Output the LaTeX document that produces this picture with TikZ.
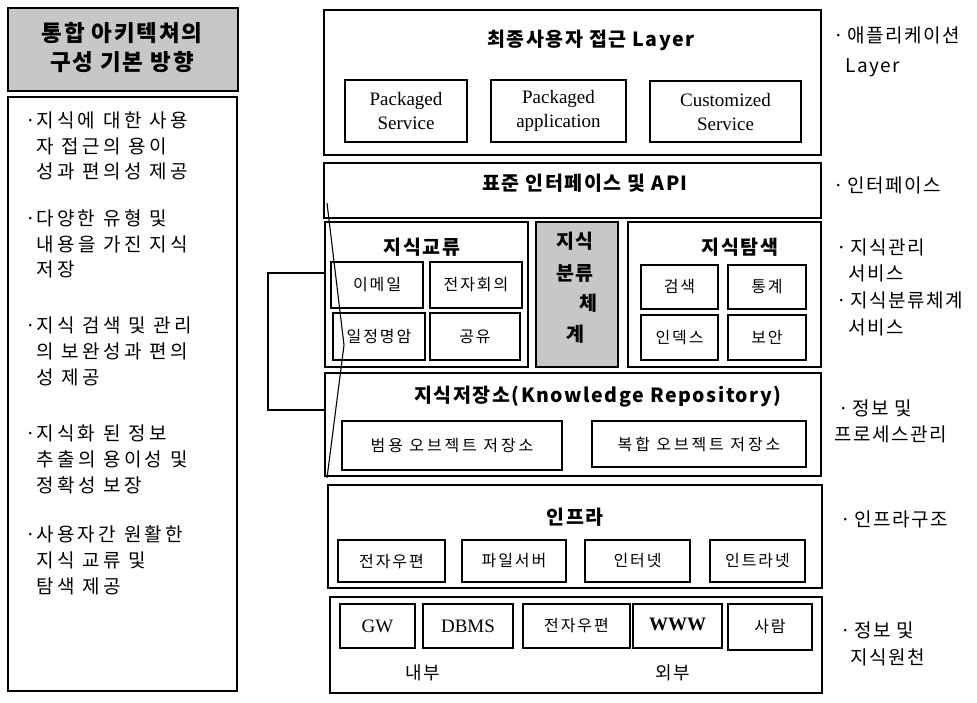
\documentclass[tikz,border=0pt]{standalone}
\usepackage{fontspec}
\setmainfont{Liberation Serif}
\newfontfamily\kr[LetterSpace=8]{Noto Sans CJK KR}
\newfontfamily\krw[LetterSpace=18]{Noto Sans CJK KR}
\newfontfamily\krm[LetterSpace=12]{Noto Sans CJK KR}
\newcommand\kbox[7][]{\node[bx,#1,minimum width={#5pt-#3pt},minimum height={#6pt-#4pt}] (#2) at ({(#3+#5)/2},{(#4+#6)/2}) {#7};}
\begin{document}
\begin{tikzpicture}[x=1pt,y=-1pt,
  bx/.style={draw,line width=2.3pt,inner sep=0pt,align=center},
  lay/.style={bx,line width=2.5pt},
  gfill/.style={fill=black!22},
  ttl/.style={inner sep=0pt,font=\kr\bfseries\fontsize{19.5}{22}\selectfont},
  lt/.style={anchor=west,inner sep=0pt,font=\krw\fontsize{19}{21}\selectfont},
  rl/.style={anchor=west,inner sep=0pt,font=\kr\fontsize{19}{21}\selectfont},
  en/.style={font=\fontsize{19}{24}\selectfont},
  ko/.style={font=\krm\fontsize{16}{18}\selectfont},
  conn/.style={line width=1.3pt},
  diag/.style={line width=1.1pt}]
\useasboundingbox (0,0) rectangle (977,702);
% ---------------- left column
\kbox[lay,gfill,line width=2.8pt]{head}{8}{8}{238}{91}{}
\node[font=\kr\bfseries\fontsize{22.5}{29}\selectfont,align=center,inner sep=0pt] (headtxt) at (122,48) {통합 아키텍쳐의\\구성 기본 방향};
\kbox[lay,line width=2.8pt]{list}{8}{97}{237}{691}{}
\node[lt] (a1) at (36,120) {\llap{·}지식에 대한 사용};
\node[lt] (a2) at (36,146) {자 접근의 용이};
\node[lt] (a3) at (36,171) {성과 편의성 제공};
\node[lt] (b1) at (36,218) {\llap{·}다양한 유형 및};
\node[lt] (b2) at (36,244) {내용을 가진 지식};
\node[lt] (b3) at (36,269) {저장};
\node[lt] (c1) at (36,325) {\llap{·}지식 검색 및 관리};
\node[lt] (c2) at (36,351) {의 보완성과 편의};
\node[lt] (c3) at (36,377) {성 제공};
\node[lt] (e1) at (36,433) {\llap{·}지식화 된 정보};
\node[lt] (e2) at (36,459) {추출의 용이성 및};
\node[lt] (e3) at (36,485) {정확성 보장};
\node[lt] (f1) at (36,534) {\llap{·}사용자간 원활한};
\node[lt] (f2) at (36,560) {지식 교류 및};
\node[lt] (f3) at (36,586) {탐색 제공};
% ---------------- layer 1
\kbox[lay]{user}{324}{10}{821}{155}{}
\node[ttl] (usert) at (591,40) {최종사용자 접근 Layer};
\kbox[en]{ps}{345}{80}{467}{142}{Packaged\\Service}
\kbox[en]{pa}{491}{80}{626}{142}{Packaged\\application}
\kbox[en]{cs}{650}{81}{801}{142}{Customized\\Service}
% ---------------- layer 2
\kbox[lay]{api}{324}{163}{821}{218}{}
\node[ttl] (apit) at (585,183) {표준 인터페이스 및 API};
% ---------------- middle row
\kbox[lay]{kx}{325}{222}{528}{367}{}
\node[ttl] (kxt) at (422,247) {지식교류};
\kbox[ko]{mail}{331}{262}{423}{308}{이메일}
\kbox[ko]{conf}{430}{262}{522}{308}{전자회의}
\kbox[ko]{sched}{333}{313}{425}{360}{일정명암}
\kbox[ko]{share}{430}{313}{520}{360}{공유}
\kbox[lay,gfill]{tax}{536}{222}{618}{367}{}
\node[ttl] (tax1) at (575,241) {지식};
\node[ttl] (tax2) at (575,273) {분류};
\node[ttl] (tax3) at (588,303) {체};
\node[ttl] (tax4) at (575,334) {계};
\kbox[lay]{ks}{628}{222}{821}{367}{}
\node[ttl] (kst) at (740,247) {지식탐색};
\kbox[ko]{srch}{641}{265}{718}{309}{검색}
\kbox[ko]{stat}{728}{265}{806}{309}{통계}
\kbox[ko]{idx}{641}{315}{718}{360}{인덱스}
\kbox[ko]{sec}{728}{315}{806}{360}{보안}
% ---------------- repository
\kbox[lay]{repo}{325}{373}{821}{476}{}
\node[ttl] (repot) at (598,397) {지식저장소(Knowledge Repository)};
\kbox[ko,font=\krw\fontsize{16}{18}\selectfont]{gen}{342}{421}{562}{470}{범용 오브젝트 저장소}
\kbox[ko,font=\krw\fontsize{16}{18}\selectfont]{cmp}{592}{421}{806}{467}{복합 오브젝트 저장소}
% ---------------- infra
\kbox[lay]{infra}{328}{485}{822}{588}{}
\node[ttl] (infrat) at (575,517) {인프라};
\kbox[ko]{em1}{338}{540}{445}{582}{전자우편}
\kbox[ko]{fs}{462}{540}{566}{582}{파일서버}
\kbox[ko]{inet}{585}{540}{690}{582}{인터넷}
\kbox[ko]{intra}{710}{540}{805}{582}{인트라넷}
% ---------------- sources
\kbox[lay]{src}{330}{597}{822}{693}{}
\kbox[en]{gw}{340}{604}{415}{648}{\raisebox{-4pt}{GW}}
\kbox[en]{dbms}{423}{604}{513}{648}{\raisebox{-4pt}{DBMS}}
\kbox[ko]{em2}{523}{604}{630}{648}{\raisebox{3pt}{전자우편}}
\kbox[en]{www}{633}{604}{722}{648}{\raisebox{3pt}{\bfseries WWW}}
\kbox[ko]{ppl}{728}{604}{812}{650}{\raisebox{3pt}{사람}}
\node[inner sep=0pt,font=\kr\fontsize{18}{20}\selectfont] (inn) at (423,673) {내부};
\node[inner sep=0pt,font=\kr\fontsize{18}{20}\selectfont] (out) at (673,673) {외부};
% ---------------- right labels
\node[rl] (r1) at (833,35) {·\,애플리케이션};
\node[rl] (r1b) at (845,68) {Layer};
\node[rl] (r2) at (833,185) {·\,인터페이스};
\node[rl] (r3) at (836,247) {·\,지식관리};
\node[rl] (r3b) at (848,273) {서비스};
\node[rl] (r4) at (836,300) {·\,지식분류체계};
\node[rl] (r4b) at (848,327) {서비스};
\node[rl] (r5) at (838,408) {·\,정보 및};
\node[rl] (r5b) at (834,434) {프로세스관리};
\node[rl] (r6) at (840,519) {·\,인프라구조};
\node[rl] (r7) at (840,630) {·\,정보 및};
\node[rl] (r7b) at (850,657) {지식원천};
% ---------------- connectors
\coordinate (bt) at (268,273);
\coordinate (bb) at (268,410);
\draw[conn] (kx.west |- bt) -- (bt) -- (bb) -- (repo.west |- bb);
\coordinate (d1) at (327,203);
\coordinate (d2) at (344,345);
\coordinate (d3) at (327,478);
\draw[diag] (d1) -- (d2) -- (d3);
\end{tikzpicture}
\end{document}
